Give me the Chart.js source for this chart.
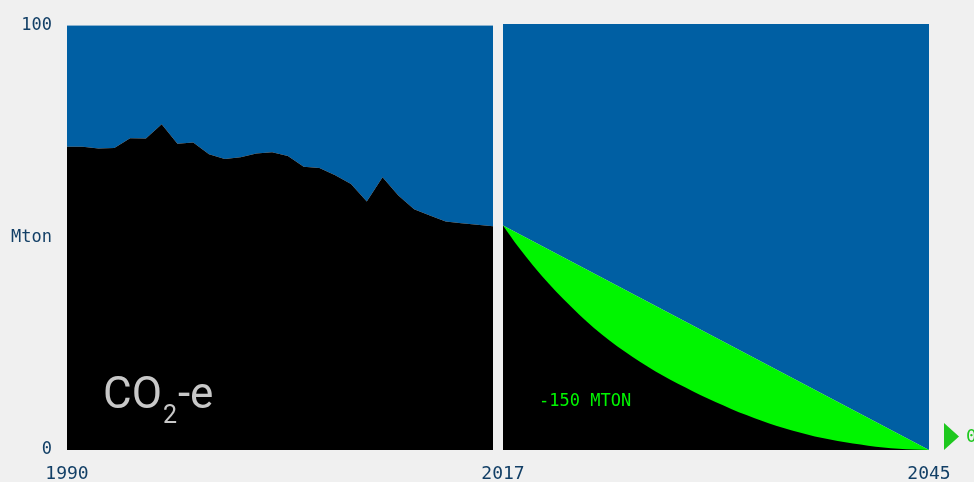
<!DOCTYPE html>
<html>
<head>
<meta charset="utf-8">
<script src="https://cdn.jsdelivr.net/npm/chart.js@4.4.1/dist/chart.umd.min.js"></script>
<style>
    html, body { margin: 0; padding: 0; background: #f0f0f0; }
    #wrap { position: relative; width: 974px; height: 482px; overflow: hidden; }
    #leftBox { position: absolute; left: 0; top: 0; width: 520px; height: 482px; }
    #rightBox { position: absolute; left: 460px; top: 0; width: 514px; height: 482px; }
</style>
</head>
<body>
<div id="wrap">
    <div id="leftBox"><canvas id="historyChart"></canvas></div>
    <div id="rightBox"><canvas id="pathChart"></canvas></div>
</div>
<script>
// Data
const years = ['1990', '1991', '1992', '1993', '1994', '1995', '1996', '1997', '1998', '1999',
    '2000', '2001', '2002', '2003', '2004', '2005', '2006', '2007', '2008', '2009',
    '2010', '2011', '2012', '2013', '2014', '2015', '2016', '2017'];
const emissions = [71.4, 71.4, 71.0, 71.1, 73.4, 73.3, 76.7, 72.1, 72.4, 69.6,
    68.5, 68.9, 69.8, 70.1, 69.2, 66.7, 66.4, 64.7, 62.6, 58.5,
    64.2, 59.9, 56.7, 55.2, 53.8, 53.4, 53.0, 52.7];

// Linear path to zero
const pathYears = [2017, 2045];
const pathValues = [52.7, 0];

// Faster reduction curve
const curveYears = [2017, 2018, 2019, 2020, 2021, 2022, 2023, 2024, 2025, 2026,
    2027, 2028, 2029, 2030, 2031, 2032, 2033, 2034, 2035, 2036,
    2037, 2038, 2039, 2040, 2041, 2042, 2043, 2044, 2045];
const curveValues = [52.7, 47.7, 43.2, 39.1, 35.3, 31.8, 28.6, 25.7, 23.1, 20.7,
    18.5, 16.5, 14.65, 12.85, 11.2, 9.65, 8.2, 6.85, 5.65, 4.6,
    3.65, 2.8, 2.1, 1.5, 1.0, 0.6, 0.3, 0.1, 0];

const yTicks = [0, 50, 100];
const yTickLabels = ['0', 'Mton', '100'];
const leftXLabels = ['1990'];
const rightXTicks = [2017, 2045];
const reductionLabel = '-150 MTON';
const endLabel = '0';

// Colours
const BLUE = '#005fa3';
const BLACK = '#000000';
const GREEN = '#00f500';
const NAVY = '#123f66';
const MONO = '"DejaVu Sans Mono", monospace';

// Text drawn inside the history panel
const co2Label = {
    id: 'co2Label',
    afterDraw(chart) {
        const ctx = chart.ctx;
        const area = chart.chartArea;
        const x = area.left + 36;
        const y = area.top + 383;
        ctx.save();
        ctx.fillStyle = '#c8c8c8';
        ctx.textBaseline = 'alphabetic';
        ctx.font = '44px Roboto';
        ctx.fillText('CO', x, y);
        let w = ctx.measureText('CO').width;
        ctx.font = '25px Roboto';
        ctx.fillText('2', x + w + 1, y + 15);
        w += ctx.measureText('2').width + 2;
        ctx.font = '44px Roboto';
        ctx.fillText('-e', x + w, y);
        ctx.restore();
    }
};

// Labels drawn inside / next to the path panel
const pathLabels = {
    id: 'pathLabels',
    afterDraw(chart) {
        const ctx = chart.ctx;
        const area = chart.chartArea;
        const xs = chart.scales.x;
        const ys = chart.scales.y;
        ctx.save();
        ctx.fillStyle = GREEN;
        ctx.font = '17px ' + MONO;
        ctx.textBaseline = 'middle';
        ctx.fillText(reductionLabel, area.left + 36, area.top + 378);

        // end marker
        const ex = xs.getPixelForValue(pathYears[pathYears.length - 1]);
        const ey = ys.getPixelForValue(pathValues[pathValues.length - 1]);
        ctx.fillStyle = '#1ec81e';
        ctx.beginPath();
        ctx.moveTo(ex + 15, ey - 27);
        ctx.lineTo(ex + 30, ey - 13.5);
        ctx.lineTo(ex + 15, ey);
        ctx.closePath();
        ctx.fill();
        ctx.font = '18px ' + MONO;
        ctx.fillText(endLabel, ex + 37, ey - 13);
        ctx.restore();
    }
};

const tickFont = { family: MONO, size: 17 };

function initializeCharts() {
    // History chart
    const historyCtx = document.getElementById('historyChart').getContext('2d');
    new Chart(historyCtx, {
        type: 'line',
        data: {
            labels: years,
            datasets: [{
                data: emissions,
                borderWidth: 0,
                pointRadius: 0,
                backgroundColor: BLACK,
                fill: 'origin',
                tension: 0
            }, {
                data: emissions,
                borderWidth: 0,
                pointRadius: 0,
                backgroundColor: BLUE,
                fill: 'end',
                tension: 0
            }]
        },
        options: {
            responsive: true,
            maintainAspectRatio: false,
            animation: false,
            layout: { padding: { top: 24, right: 27, left: 0, bottom: 0 } },
            plugins: { legend: { display: false }, tooltip: { enabled: false } },
            scales: {
                x: {
                    grid: { display: false, drawTicks: false },
                    border: { display: false },
                    ticks: {
                        autoSkip: false,
                        maxRotation: 0,
                        color: NAVY,
                        font: { family: MONO, size: 18 },
                        padding: 14,
                        callback: function(value, index) {
                            const label = years[index];
                            return leftXLabels.includes(label) ? label : '';
                        }
                    },
                    afterFit: function(scale) { scale.height = 32; }
                },
                y: {
                    min: 0,
                    max: 100,
                    grid: { display: false, drawTicks: false },
                    border: { display: false },
                    afterBuildTicks: function(scale) {
                        scale.ticks = yTicks.map(v => ({ value: v }));
                    },
                    ticks: {
                        color: NAVY,
                        font: tickFont,
                        padding: 15,
                        callback: function(value) {
                            return yTickLabels[yTicks.indexOf(value)];
                        }
                    },
                    afterFit: function(scale) { scale.width = 67; }
                }
            }
        },
        plugins: [co2Label]
    });

    // Path chart
    const pathCtx = document.getElementById('pathChart').getContext('2d');
    const pathPoints = pathYears.map((yr, i) => ({ x: yr, y: pathValues[i] }));
    const curvePoints = curveYears.map((yr, i) => ({ x: yr, y: curveValues[i] }));
    new Chart(pathCtx, {
        type: 'line',
        data: {
            datasets: [{
                data: curvePoints,
                borderWidth: 0,
                pointRadius: 0,
                backgroundColor: BLACK,
                fill: 'origin',
                cubicInterpolationMode: 'monotone'
            }, {
                data: pathPoints,
                borderWidth: 0,
                pointRadius: 0,
                backgroundColor: GREEN,
                fill: 'origin'
            }, {
                data: pathPoints,
                borderWidth: 0,
                pointRadius: 0,
                backgroundColor: BLUE,
                fill: 'end'
            }]
        },
        options: {
            responsive: true,
            maintainAspectRatio: false,
            animation: false,
            layout: { padding: { top: 24, right: 45, left: 43, bottom: 0 } },
            plugins: { legend: { display: false }, tooltip: { enabled: false } },
            scales: {
                x: {
                    type: 'linear',
                    min: pathYears[0],
                    max: pathYears[pathYears.length - 1],
                    grid: { display: false, drawTicks: false },
                    border: { display: false },
                    afterBuildTicks: function(scale) {
                        scale.ticks = rightXTicks.map(v => ({ value: v }));
                    },
                    ticks: {
                        autoSkip: false,
                        maxRotation: 0,
                        color: NAVY,
                        font: { family: MONO, size: 18 },
                        padding: 14,
                        callback: function(value) { return String(value); }
                    },
                    afterFit: function(scale) { scale.height = 32; }
                },
                y: {
                    display: false,
                    min: 0,
                    max: 100
                }
            }
        },
        plugins: [pathLabels]
    });
}

document.addEventListener('DOMContentLoaded', initializeCharts);
</script>
</body>
</html>
